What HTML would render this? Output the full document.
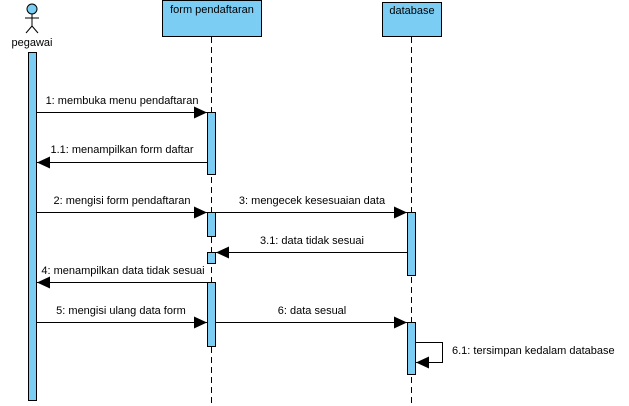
<!DOCTYPE html>
<html><head><style>
body{margin:0;background:#fff}
svg{display:block}
text{font-family:"Liberation Sans",sans-serif;font-size:11px;fill:#000}
</style></head><body>
<svg width="629" height="406" viewBox="0 0 629 406">
<defs>
<marker id="a" markerWidth="14" markerHeight="12" refX="13" refY="6" orient="auto" markerUnits="userSpaceOnUse">
<path d="M0,0 L13,6 L0,12 Z" fill="#000"/>
</marker>
</defs>
<!-- actor -->
<circle cx="32" cy="9" r="5" fill="#7ccdf4" stroke="#000"/>
<line x1="32" y1="14" x2="32" y2="26" stroke="#000"/>
<line x1="25" y1="18" x2="39" y2="18" stroke="#000"/>
<line x1="32" y1="26" x2="26" y2="33" stroke="#000"/>
<line x1="32" y1="26" x2="38" y2="33" stroke="#000"/>
<text x="32" y="46" text-anchor="middle">pegawai</text>
<!-- boxes -->
<rect x="162.5" y="0.5" width="99" height="36" fill="#7ccdf4" stroke="#000"/>
<text x="212" y="13" text-anchor="middle">form pendaftaran</text>
<rect x="382.5" y="2.5" width="59" height="34" fill="#7ccdf4" stroke="#000"/>
<text x="412" y="14" text-anchor="middle">database</text>
<!-- lifelines -->
<line x1="211.5" y1="37" x2="211.5" y2="404" stroke="#000" stroke-dasharray="6,4"/>
<line x1="411.5" y1="37" x2="411.5" y2="404" stroke="#000" stroke-dasharray="6,4"/>
<!-- activations -->
<rect x="28.5" y="52.5" width="8" height="348" fill="#7ccdf4" stroke="#000"/>
<rect x="207.5" y="112.5" width="8" height="62" fill="#7ccdf4" stroke="#000"/>
<rect x="207.5" y="212.5" width="8" height="24" fill="#7ccdf4" stroke="#000"/>
<rect x="207.5" y="252.5" width="8" height="11" fill="#7ccdf4" stroke="#000"/>
<rect x="207.5" y="282.5" width="8" height="64" fill="#7ccdf4" stroke="#000"/>
<rect x="407.5" y="212.5" width="8" height="63" fill="#7ccdf4" stroke="#000"/>
<rect x="407.5" y="322.5" width="8" height="52" fill="#7ccdf4" stroke="#000"/>
<!-- messages -->
<g stroke="#000" fill="none">
<line x1="37" y1="112.5" x2="207" y2="112.5" marker-end="url(#a)"/>
<line x1="207" y1="162.5" x2="37" y2="162.5" marker-end="url(#a)"/>
<line x1="37" y1="212.5" x2="207" y2="212.5" marker-end="url(#a)"/>
<line x1="216" y1="212.5" x2="407" y2="212.5" marker-end="url(#a)"/>
<line x1="407" y1="252.5" x2="216" y2="252.5" marker-end="url(#a)"/>
<line x1="207" y1="282.5" x2="37" y2="282.5" marker-end="url(#a)"/>
<line x1="37" y1="322.5" x2="207" y2="322.5" marker-end="url(#a)"/>
<line x1="216" y1="322.5" x2="407" y2="322.5" marker-end="url(#a)"/>
<polyline points="416,342.5 442.5,342.5 442.5,362.5 416,362.5" marker-end="url(#a)"/>
</g>
<text x="122" y="104" text-anchor="middle">1: membuka menu pendaftaran</text>
<text x="122" y="153" text-anchor="middle">1.1: menampilkan form daftar</text>
<text x="122" y="204" text-anchor="middle">2: mengisi form pendaftaran</text>
<text x="312" y="204" text-anchor="middle">3: mengecek kesesuaian data</text>
<text x="312" y="244" text-anchor="middle">3.1: data tidak sesuai</text>
<text x="123" y="274" text-anchor="middle">4: menampilkan data tidak sesuai</text>
<text x="121" y="314" text-anchor="middle">5: mengisi ulang data form</text>
<text x="312" y="314" text-anchor="middle">6: data sesual</text>
<text x="452" y="354">6.1: tersimpan kedalam database</text>
</svg>
</body></html>
